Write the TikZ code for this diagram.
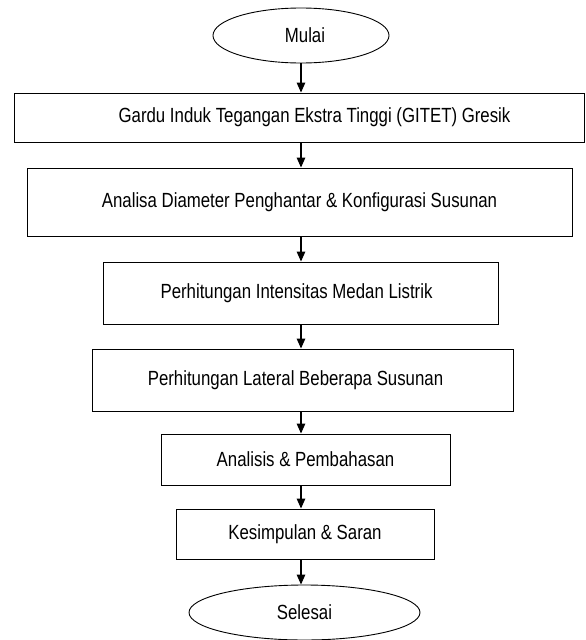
\documentclass[tikz,border=0pt]{standalone}
\usepackage{fontspec}
\setmainfont{Liberation Sans}[FakeStretch=0.82]
\usetikzlibrary{shapes.geometric,arrows.meta}
\begin{document}
\begin{tikzpicture}[x=1pt,y=-1pt,
  every node/.style={font=\fontsize{20.5}{24}\selectfont, inner sep=0pt},
  stepbox/.style={draw, line width=0.9pt, rectangle},
  term/.style={draw, line width=0.9pt, ellipse},
  arr/.style={line width=1.3pt, -{Triangle[length=10pt,width=8.5pt]}}]
\useasboundingbox (0,0) rectangle (586,640);
\node[term, minimum width=176pt, minimum height=55pt] (mulai) at (301,35.5) {\hspace*{8pt}Mulai};
\node[stepbox, minimum width=570pt, minimum height=49pt] (b1) at (299.5,117.5) {\hspace*{30pt}Gardu Induk Tegangan Ekstra Tinggi (GITET) Gresik};
\node[stepbox, minimum width=545pt, minimum height=68pt] (b2) at (299.5,202) {Analisa Diameter Penghantar \& Konfigurasi Susunan};
\node[stepbox, minimum width=395pt, minimum height=62pt] (b3) at (300.5,293) {Perhitungan Intensitas Medan Listrik\hspace*{8pt}};
\node[stepbox, minimum width=421pt, minimum height=62pt] (b4) at (302.5,380) {Perhitungan Lateral Beberapa Susunan\hspace*{14pt}};
\node[stepbox, minimum width=289pt, minimum height=51pt] (b5) at (305.5,459.5) {Analisis \& Pembahasan};
\node[stepbox, minimum width=258pt, minimum height=50pt] (b6) at (305,534) {Kesimpulan \& Saran};
\node[term, minimum width=231pt, minimum height=55pt] (selesai) at (304.5,612.5) {Selesai};
\draw[arr] (mulai.south) -- (b1.north -| mulai.south);
\draw[arr] (b1.south -| mulai.south) -- (b2.north -| mulai.south);
\draw[arr] (b2.south -| mulai.south) -- (b3.north -| mulai.south);
\draw[arr] (b3.south -| mulai.south) -- (b4.north -| mulai.south);
\draw[arr] (b4.south -| mulai.south) -- (b5.north -| mulai.south);
\draw[arr] (b5.south -| mulai.south) -- (b6.north -| mulai.south);
\draw[arr] (b6.south -| mulai.south) -- (selesai.north -| mulai.south);
\end{tikzpicture}
\end{document}
